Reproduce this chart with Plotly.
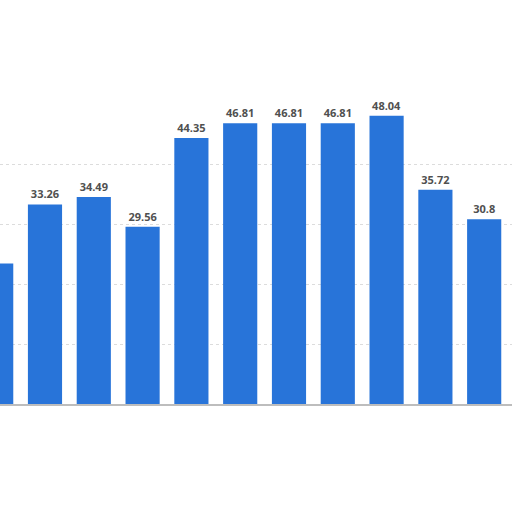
import plotly.graph_objects as go

categories = ["2009", "2010", "2011", "2012", "2013", "2014", "2015", "2016", "2017", "2018", "2019"]
values = [23.41, 33.26, 34.49, 29.56, 44.35, 46.81, 46.81, 46.81, 48.04, 35.72, 30.8]
labels = ["23.41", "33.26", "34.49", "29.56", "44.35", "46.81", "46.81", "46.81", "48.04", "35.72", "30.8"]
grid_ticks = [10, 20, 30, 40]

fig = go.Figure()

fig.add_trace(
    go.Bar(
        x=categories,
        y=values,
        text=labels,
        textposition="outside",
        cliponaxis=False,
        marker={"color": "#2874d9", "line": {"width": 0}},
        textfont={"family": "Open Sans", "size": 11, "color": "#505050", "weight": "bold"},
    )
)

fig.update_layout(
    width=512,
    height=512,
    paper_bgcolor="#ffffff",
    plot_bgcolor="#ffffff",
    showlegend=False,
    bargap=0.3,
    uniformtext={"minsize": 11},
    margin={"l": 0, "r": 0, "t": 104, "b": 108},
    xaxis={
        "type": "category",
        "range": [0.078, 10.57],
        "showticklabels": False,
        "showgrid": False,
        "showline": True,
        "linecolor": "#bdbdbd",
        "linewidth": 1.5,
        "ticks": "",
    },
    yaxis={
        "range": [0, 50],
        "tickvals": grid_ticks,
        "showticklabels": False,
        "showgrid": True,
        "gridcolor": "#dcdcdc",
        "griddash": "dot",
        "gridwidth": 1,
        "zeroline": False,
        "showline": False,
    },
)

# drop the page's default body margin so the figure sits at the window corner
fig.write_html(
    "out.html",
    config={"displayModeBar": False},
    post_script="document.body.style.margin='0px';",
)
